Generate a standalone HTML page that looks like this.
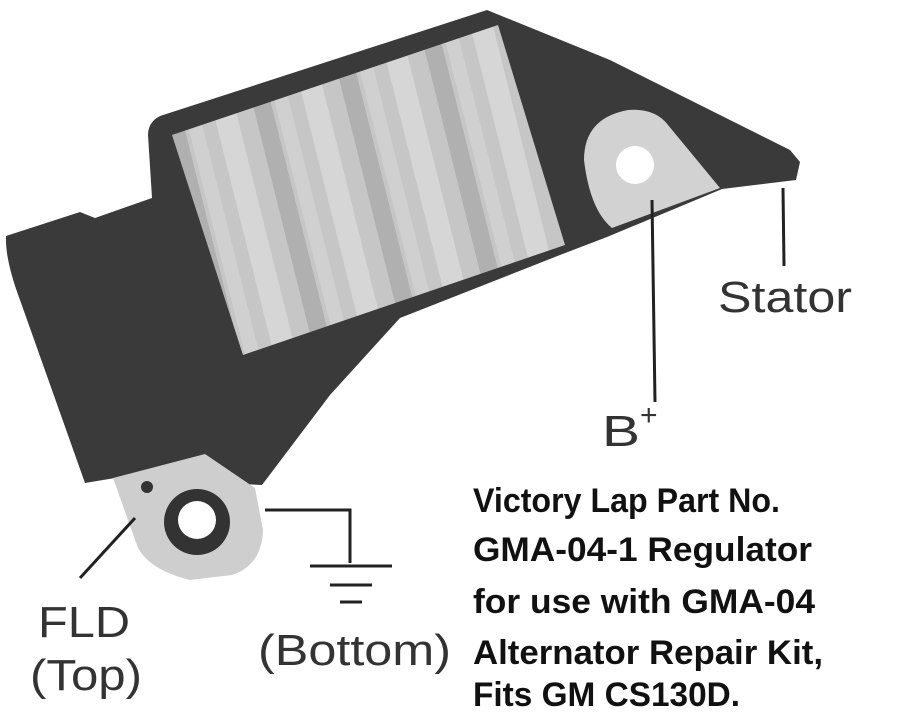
<!DOCTYPE html>
<html><head><meta charset="utf-8"><style>
html,body{margin:0;padding:0;background:#fff;}
svg{display:block;}
.h{font-family:"Liberation Sans",Arial,sans-serif;fill:#333;}
.b{font-family:"Liberation Sans Narrow","Liberation Sans",sans-serif;font-weight:bold;fill:#111;font-size:34px;}
</style></head><body>
<svg width="907" height="714" viewBox="0 0 907 714" xmlns="http://www.w3.org/2000/svg">
<defs>
<pattern id="st" width="90" height="90" patternUnits="userSpaceOnUse" patternTransform="rotate(-14)">
<rect width="90" height="90" fill="#c6c6c6"/>
<rect x="0" width="22" height="90" fill="#d6d6d6"/>
<rect x="40" width="18" height="90" fill="#b0b0b0"/>
<rect x="62" width="14" height="90" fill="#d0d0d0"/>
</pattern>
</defs>
<!-- body -->
<path d="M160,116 L487,10 L610,60 L700,105 L790,150 L800,162 L796,180 L722,189 L607,237 L560,255 L400,318 L330,395 L262,485 L115,478 L85,483 L20,300 Q5,260 6,236 L80,212 L95,218 L152,198 L148,135 Q148,122 160,116 Z" fill="#3a3a3a"/>
<!-- heatsink panel -->
<path d="M172,135 L498,25 L565,245 L243,355 Z" fill="url(#st)"/>
<!-- B+ tab -->
<path d="M584,160 Q584,118 628,110 Q655,108 668,125 L720,188 L612,228 Q590,210 584,160 Z" fill="#d2d2d2"/>
<circle cx="635" cy="165" r="19" fill="#fff"/>
<!-- FLD tab -->
<path d="M113,478 L205,454 L255,488 L263,530 Q262,565 232,575 L190,580 Q150,570 138,548 Z" fill="#cecece"/>
<circle cx="147" cy="487" r="6" fill="#333"/>
<circle cx="197" cy="522" r="33" fill="#333"/>
<circle cx="197" cy="520" r="19" fill="#fff"/>
<!-- leader lines -->
<g stroke="#222" stroke-width="3" fill="none">
<line x1="652" y1="200" x2="655" y2="402"/>
<line x1="783" y1="188" x2="784" y2="266"/>
<line x1="135" y1="518" x2="80" y2="578"/>
<polyline points="265,510 350,510 350,563"/>
<line x1="310" y1="566" x2="392" y2="566"/>
<line x1="330" y1="585" x2="372" y2="585"/>
<line x1="340" y1="602" x2="362" y2="602"/>
</g>
<text class="h" x="718" y="312" font-size="44" textLength="134" lengthAdjust="spacingAndGlyphs">Stator</text>
<text class="h" x="602" y="446" font-size="44" textLength="38" lengthAdjust="spacingAndGlyphs">B</text>
<text class="h" x="640" y="425" font-size="30">+</text>
<text class="h" x="38" y="637" font-size="44" textLength="92" lengthAdjust="spacingAndGlyphs">FLD</text>
<text class="h" x="30" y="690" font-size="44" textLength="112" lengthAdjust="spacingAndGlyphs">(Top)</text>
<text class="h" x="258" y="665" font-size="44" textLength="193" lengthAdjust="spacingAndGlyphs">(Bottom)</text>
<text class="b" x="473" y="512" textLength="307" lengthAdjust="spacingAndGlyphs">Victory Lap Part No.</text>
<text class="b" x="473" y="561" textLength="339" lengthAdjust="spacingAndGlyphs">GMA-04-1 Regulator</text>
<text class="b" x="473" y="613" textLength="342" lengthAdjust="spacingAndGlyphs">for use with GMA-04</text>
<text class="b" x="473" y="664" textLength="350" lengthAdjust="spacingAndGlyphs">Alternator Repair Kit,</text>
<text class="b" x="473" y="706" textLength="267" lengthAdjust="spacingAndGlyphs">Fits GM CS130D.</text>
</svg>
</body></html>
